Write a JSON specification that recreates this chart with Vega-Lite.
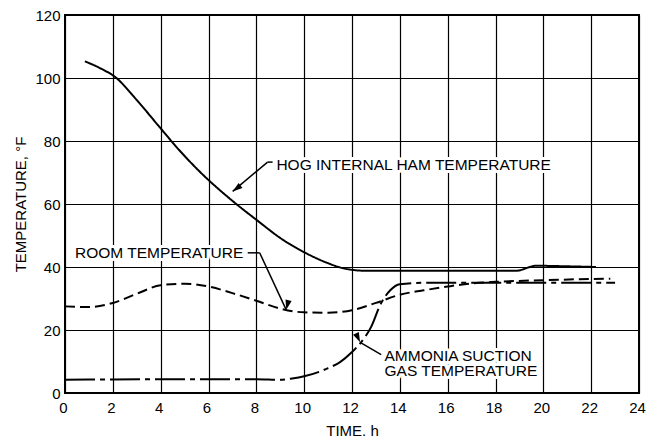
{
  "$schema": "https://vega.github.io/schema/vega-lite/v6.json",
  "width": 574,
  "height": 378,
  "autosize": {"type": "none"},
  "padding": {"left": 65, "top": 15, "right": 7, "bottom": 45},
  "background": "white",
  "config": {
    "font": "Liberation Sans",
    "view": {"stroke": "black", "strokeWidth": 2},
    "axis": {
      "grid": true,
      "gridColor": "#000000",
      "gridWidth": 1.2,
      "gridOpacity": 1,
      "domain": false,
      "ticks": false,
      "labelFontSize": 15,
      "labelColor": "black",
      "labelFlush": false,
      "labelOverlap": false,
      "titleFontSize": 15,
      "titleFontWeight": "normal",
      "titleColor": "black"
    }
  },
  "datasets": {
    "curves": [
      {"series": "hog", "time": 0.83, "temp": 105.3},
      {"series": "hog", "time": 1.5, "temp": 103.0},
      {"series": "hog", "time": 2.1, "temp": 100.3},
      {"series": "hog", "time": 3.0, "temp": 93.0},
      {"series": "hog", "time": 4.0, "temp": 84.0},
      {"series": "hog", "time": 4.8, "temp": 76.9},
      {"series": "hog", "time": 5.63, "temp": 70.3},
      {"series": "hog", "time": 7.0, "temp": 61.0},
      {"series": "hog", "time": 8.0, "temp": 55.0},
      {"series": "hog", "time": 9.1, "temp": 48.7},
      {"series": "hog", "time": 10.1, "temp": 44.3},
      {"series": "hog", "time": 10.9, "temp": 41.5},
      {"series": "hog", "time": 11.75, "temp": 39.4},
      {"series": "hog", "time": 12.6, "temp": 38.8},
      {"series": "hog", "time": 15.0, "temp": 38.8},
      {"series": "hog", "time": 18.85, "temp": 38.8},
      {"series": "hog", "time": 19.7, "temp": 40.4},
      {"series": "hog", "time": 20.5, "temp": 40.3},
      {"series": "hog", "time": 22.2, "temp": 40.0},
      {"series": "room", "time": 0.0, "temp": 27.5},
      {"series": "room", "time": 1.0, "temp": 27.3},
      {"series": "room", "time": 2.0, "temp": 28.6},
      {"series": "room", "time": 3.0, "temp": 31.5},
      {"series": "room", "time": 4.0, "temp": 34.2},
      {"series": "room", "time": 5.0, "temp": 34.7},
      {"series": "room", "time": 6.0, "temp": 33.8},
      {"series": "room", "time": 7.0, "temp": 31.7},
      {"series": "room", "time": 8.0, "temp": 29.3},
      {"series": "room", "time": 9.0, "temp": 26.8},
      {"series": "room", "time": 10.0, "temp": 25.6},
      {"series": "room", "time": 11.0, "temp": 25.5},
      {"series": "room", "time": 12.0, "temp": 26.3},
      {"series": "room", "time": 13.0, "temp": 28.6},
      {"series": "room", "time": 14.0, "temp": 31.2},
      {"series": "room", "time": 15.0, "temp": 32.6},
      {"series": "room", "time": 16.0, "temp": 33.8},
      {"series": "room", "time": 17.0, "temp": 34.8},
      {"series": "room", "time": 18.0, "temp": 35.3},
      {"series": "room", "time": 20.0, "temp": 35.8},
      {"series": "room", "time": 22.0, "temp": 36.2},
      {"series": "room", "time": 22.8, "temp": 36.3},
      {"series": "ammonia", "time": 0.0, "temp": 4.2},
      {"series": "ammonia", "time": 2.0, "temp": 4.3},
      {"series": "ammonia", "time": 4.0, "temp": 4.4},
      {"series": "ammonia", "time": 6.0, "temp": 4.4},
      {"series": "ammonia", "time": 8.0, "temp": 4.4},
      {"series": "ammonia", "time": 9.0, "temp": 4.2},
      {"series": "ammonia", "time": 9.5, "temp": 4.6},
      {"series": "ammonia", "time": 10.0, "temp": 5.3},
      {"series": "ammonia", "time": 11.0, "temp": 7.9},
      {"series": "ammonia", "time": 11.5, "temp": 9.8},
      {"series": "ammonia", "time": 12.0, "temp": 13.0},
      {"series": "ammonia", "time": 12.4, "temp": 16.3},
      {"series": "ammonia", "time": 12.8, "temp": 21.0},
      {"series": "ammonia", "time": 13.2, "temp": 28.3},
      {"series": "ammonia", "time": 13.6, "temp": 32.6},
      {"series": "ammonia", "time": 14.0, "temp": 34.5},
      {"series": "ammonia", "time": 15.0, "temp": 35.0},
      {"series": "ammonia", "time": 18.0, "temp": 35.0},
      {"series": "ammonia", "time": 20.0, "temp": 35.0},
      {"series": "ammonia", "time": 23.0, "temp": 35.0}
    ],
    "labels": [
      {"label": "HOG INTERNAL HAM TEMPERATURE", "time": 8.84, "temp": 72.3},
      {"label": "ROOM TEMPERATURE", "time": 0.42, "temp": 44.4},
      {"label": "AMMONIA SUCTION", "time": 13.36, "temp": 11.86},
      {"label": "GAS TEMPERATURE", "time": 13.36, "temp": 6.88}
    ],
    "leaders": [
      {"time": 8.47, "temp": 73.3, "time2": 8.68, "temp2": 73.3},
      {"time": 8.47, "temp": 73.3, "time2": 7.01, "temp2": 64.0},
      {"time": 7.64, "temp": 44.5, "time2": 8.14, "temp2": 44.5},
      {"time": 8.14, "temp": 44.5, "time2": 9.25, "temp2": 26.4},
      {"time": 13.22, "temp": 12.2, "time2": 12.34, "temp2": 16.1}
    ],
    "heads": [
      {"arrow": "hog", "time": 7.01, "temp": 64.0},
      {"arrow": "room", "time": 9.25, "temp": 26.4},
      {"arrow": "ammonia", "time": 12.34, "temp": 16.1}
    ]
  },
  "layer": [
    {
      "data": {"name": "labels"},
      "mark": {"type": "text", "align": "left", "baseline": "middle", "fontSize": 15.5, "fill": "white", "stroke": "white", "strokeWidth": 6, "strokeJoin": "round"},
      "encoding": {
        "x": {"field": "time", "type": "quantitative", "scale": {"domain": [0, 24], "nice": false}, "axis": {"values": [0, 2, 4, 6, 8, 10, 12, 14, 16, 18, 20, 22, 24], "title": "TIME. h", "labelPadding": 7, "labelOffset": -2, "titleY": 37, "titleBaseline": "middle"}},
        "y": {"field": "temp", "type": "quantitative", "scale": {"domain": [0, 120], "nice": false}, "axis": {"values": [0, 20, 40, 60, 80, 100, 120], "title": "TEMPERATURE, °F", "labelPadding": 5, "titleX": -45, "titleY": 189, "titleBaseline": "middle"}},
        "text": {"field": "label"}
      }
    },
    {
      "data": {"name": "curves"},
      "mark": {"type": "line", "color": "black", "strokeWidth": 2, "interpolate": "monotone"},
      "encoding": {
        "x": {"field": "time", "type": "quantitative"},
        "y": {"field": "temp", "type": "quantitative"},
        "detail": {"field": "series"},
        "strokeDash": {"field": "series", "type": "nominal", "scale": {"domain": ["hog", "room", "ammonia"], "range": [[1, 0], [10, 5], [30, 5, 5, 5]]}, "legend": null}
      }
    },
    {
      "data": {"name": "labels"},
      "mark": {"type": "text", "align": "left", "baseline": "middle", "fontSize": 15.5, "color": "black"},
      "encoding": {
        "x": {"field": "time", "type": "quantitative"},
        "y": {"field": "temp", "type": "quantitative"},
        "text": {"field": "label"}
      }
    },
    {
      "data": {"name": "leaders"},
      "mark": {"type": "rule", "color": "black", "strokeWidth": 1.5},
      "encoding": {
        "x": {"field": "time", "type": "quantitative"},
        "y": {"field": "temp", "type": "quantitative"},
        "x2": {"field": "time2"},
        "y2": {"field": "temp2"}
      }
    },
    {
      "data": {"name": "heads"},
      "mark": {"type": "point", "shape": "M0,0L-0.7,2.2L0.7,2.2Z", "filled": true, "color": "black", "opacity": 1, "size": 81},
      "encoding": {
        "x": {"field": "time", "type": "quantitative"},
        "y": {"field": "temp", "type": "quantitative"},
        "angle": {"field": "arrow", "type": "nominal", "scale": {"domain": ["hog", "room", "ammonia"], "range": [232.7, 154.9, 300.4]}, "legend": null}
      }
    }
  ]
}
